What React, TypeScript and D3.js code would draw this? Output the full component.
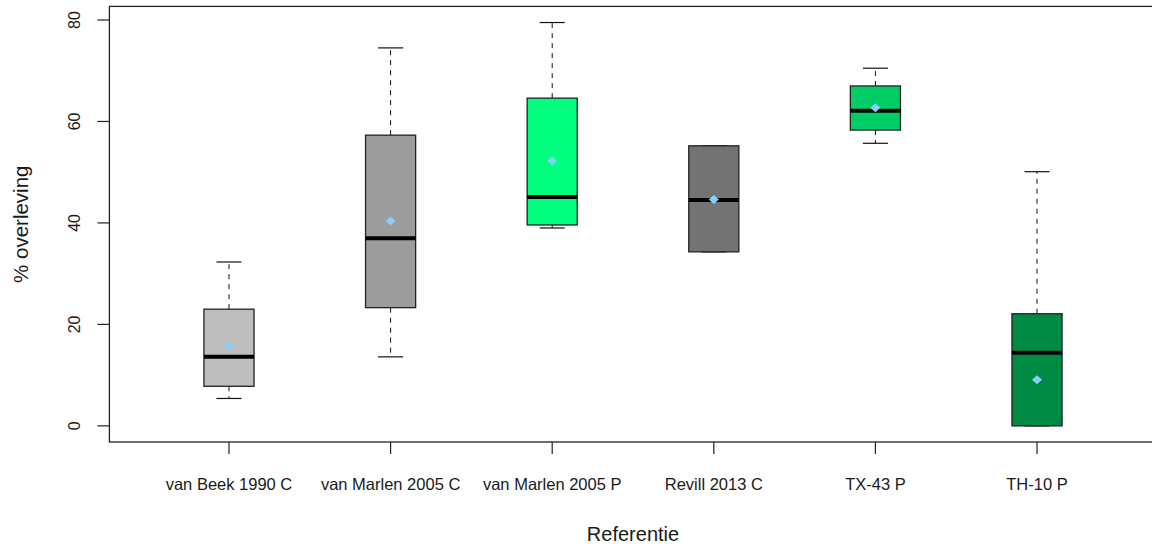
import React from "react";
import * as d3 from "d3";

// survival per reference
const categories = [
  "van Beek 1990 C",
  "van Marlen 2005 C",
  "van Marlen 2005 P",
  "Revill 2013 C",
  "TX-43 P",
  "TH-10 P",
];
const whiskerLow = [5.4, 13.6, 39.0, 34.3, 55.7, 0];
const q1 = [7.8, 23.3, 39.6, 34.3, 58.3, 0];
const medians = [13.6, 37.0, 45.1, 44.5, 62.1, 14.4];
const q3 = [23.0, 57.3, 64.6, 55.2, 67.0, 22.1];
const whiskerHigh = [32.3, 74.5, 79.5, 55.2, 70.5, 50.1];
const means = [15.8, 40.4, 52.2, 44.6, 62.7, 9.1];
const fills = ["#BEBEBE", "#9C9C9C", "#00FF7F", "#737373", "#00CD66", "#008B45"];
const yTicks = [0, 20, 40, 60, 80];

const W = 1152;
const H = 544;
const font = "'Liberation Sans', Arial, sans-serif";

export default function App() {
  // R style: range extended by 4% on each side
  const xPad = 0.04 * (6.5 - 0.5);
  const x = d3
    .scaleLinear()
    .domain([0.5 - xPad, 6.5 + xPad])
    .range([109.4, 1156.6]);

  const yMax = d3.max(whiskerHigh) as number;
  const yPad = 0.04 * yMax;
  const y = d3
    .scaleLinear()
    .domain([-yPad, yMax + yPad])
    .range([442, 6.4]);

  const boxW = 0.31 * (x(2) - x(1));
  const capW = boxW / 2;
  const diamond = d3.symbol().type(d3.symbolSquare).size(50)() as string;

  const [x0, x1] = x.range();
  const [yb, yt] = y.range();

  return (
    <svg
      width={W}
      height={H}
      style={{ position: "absolute", left: 0, top: 0, background: "#fff" }}
      fontFamily={font}
    >
      {/* boxes */}
      {categories.map((c, i) => {
        const cx = x(i + 1);
        return (
          <g key={c}>
            <line
              x1={cx}
              x2={cx}
              y1={y(q3[i])}
              y2={y(whiskerHigh[i])}
              stroke="#111"
              strokeDasharray="5,5"
            />
            <line
              x1={cx}
              x2={cx}
              y1={y(q1[i])}
              y2={y(whiskerLow[i])}
              stroke="#111"
              strokeDasharray="5,5"
            />
            <line
              x1={cx - capW / 2}
              x2={cx + capW / 2}
              y1={y(whiskerHigh[i])}
              y2={y(whiskerHigh[i])}
              stroke="#111"
              strokeWidth={1.2}
            />
            <line
              x1={cx - capW / 2}
              x2={cx + capW / 2}
              y1={y(whiskerLow[i])}
              y2={y(whiskerLow[i])}
              stroke="#111"
              strokeWidth={1.2}
            />
            <rect
              x={cx - boxW / 2}
              y={y(q3[i])}
              width={boxW}
              height={y(q1[i]) - y(q3[i])}
              fill={fills[i]}
              stroke="#222"
              strokeWidth={1.3}
            />
            <line
              x1={cx - boxW / 2}
              x2={cx + boxW / 2}
              y1={y(medians[i])}
              y2={y(medians[i])}
              stroke="#000"
              strokeWidth={4}
            />
            <path
              d={diamond}
              transform={`translate(${cx},${y(means[i])}) scale(1,0.9) rotate(45)`}
              fill="#87CEFA"
            />
          </g>
        );
      })}

      {/* frame */}
      <rect
        x={x0}
        y={yt}
        width={x1 - x0}
        height={yb - yt}
        fill="none"
        stroke="#222"
        strokeWidth={1.3}
      />

      {/* y axis */}
      {yTicks.map((t) => (
        <g key={t} transform={`translate(0,${y(t)})`}>
          <line x1={x0 - 12} x2={x0} stroke="#222" strokeWidth={1.2} />
          <text
            transform={`translate(80,0) rotate(-90)`}
            textAnchor="middle"
            fontSize={16}
            fill="#1a1a1a"
          >
            {t}
          </text>
        </g>
      ))}

      {/* x axis */}
      {categories.map((c, i) => (
        <g key={c} transform={`translate(${x(i + 1)},0)`}>
          <line y1={yb} y2={yb + 12} stroke="#222" strokeWidth={1.2} />
          <text y={490} textAnchor="middle" fontSize={16.5} fill="#1a1a1a">
            {c}
          </text>
        </g>
      ))}

      <text
        x={(x0 + x1) / 2}
        y={541}
        textAnchor="middle"
        fontSize={20}
        fill="#1a1a1a"
      >
        Referentie
      </text>
      <text
        transform={`translate(28,${(yt + yb) / 2}) rotate(-90)`}
        textAnchor="middle"
        fontSize={20.5}
        fill="#1a1a1a"
      >
        % overleving
      </text>
    </svg>
  );
}
